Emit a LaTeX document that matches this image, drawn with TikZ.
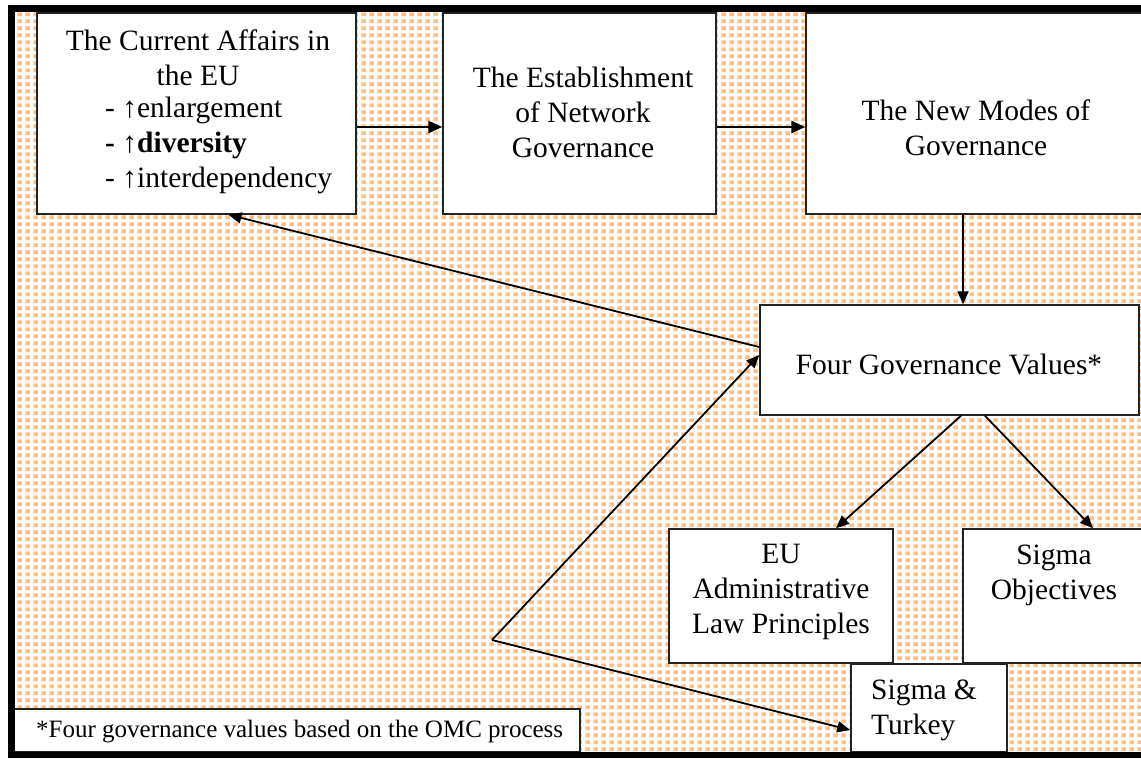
\documentclass[tikz,border=0pt]{standalone}
\usepackage{fontspec}
\setmainfont{Liberation Serif}
\usetikzlibrary{arrows.meta,patterns}
\definecolor{peachc}{RGB}{255,190,130}
\definecolor{boxline}{RGB}{35,35,35}
\pgfdeclarepatternformonly{peachgrid}{\pgfqpoint{0pt}{0pt}}{\pgfqpoint{8pt}{6.5pt}}{\pgfqpoint{8pt}{6.5pt}}{%
  \pgfpathrectangle{\pgfqpoint{1.5pt}{1pt}}{\pgfqpoint{5pt}{4pt}}\pgfusepath{fill}}
\tikzset{
  box/.style={draw=boxline, fill=white, line width=1.5pt, inner sep=0pt, rectangle},
  txt/.style={font=\fontsize{29.5}{35}\selectfont, inner sep=0pt, align=center},
  arr/.style={draw=black, line width=2.6pt, -{Triangle[length=14pt,width=12pt]}},
  thinarr/.style={draw=black, line width=1.8pt, -{Triangle[length=13pt,width=11pt]}},
}
\begin{document}
\begin{tikzpicture}[x=1pt,y=-1pt]
\useasboundingbox (0,0) rectangle (1141,758);
\begin{scope}
\clip (0,0) rectangle (1141,758);
\fill[white] (0,0) rectangle (1141,758);
\fill[pattern=peachgrid, pattern color=peachc] (15,12) rectangle (1141,752);

% boxes
\node[box, minimum width=319pt, minimum height=201pt] (cur) at (196.5,113.5) {};
\node[box, minimum width=273pt, minimum height=201pt] (est) at (579.5,113.5) {};
\node[box, minimum width=340pt, minimum height=201pt] (nmg) at (976,113.5) {};
\node[box, minimum width=379pt, minimum height=110pt] (fgv) at (949.5,360) {};
\node[box, minimum width=224pt, minimum height=134pt] (eu) at (781,596) {};
\node[box, minimum width=183pt, minimum height=134pt] (sob) at (1054.5,596) {};
\node[box, minimum width=156pt, minimum height=88pt] (stk) at (929,708) {};
\node[box, minimum width=566pt, minimum height=43pt] (fn) at (297,730.5) {};

% texts
\node[txt] (curT) at (198,57.5) {The Current Affairs in\\the EU};
\node[txt, anchor=west, align=left] (curL) at (105,145) {- ↑enlargement\\\textbf{- ↑diversity}\\- ↑interdependency};
\node[txt] (estT) at (583,112) {The Establishment\\of Network\\Governance};
\node[txt] (nmgT) at (976,128) {The New Modes of\\Governance};
\node[txt] (fgvT) at (949,364) {Four Governance Values*};
\node[txt] (euT) at (781,592) {EU\\Administrative\\Law Principles};
\node[txt] (sobT) at (1054,575) {Sigma\\Objectives};
\node[txt, anchor=west, align=left] (stkT) at (871,710) {Sigma \&\\Turkey};
\node[font=\fontsize{25}{30}\selectfont, inner sep=0pt, anchor=west] (fnT) at (36,732) {*Four governance values based on the OMC process};

% connectors
\coordinate (v) at (492,640);
\draw[arr] ([yshift=-13.5pt]cur.east) -- ([yshift=-13.5pt]est.west);
\draw[arr] ([yshift=-13.5pt]est.east) -- ([yshift=-13.5pt]nmg.west);
\draw[thinarr] ([xshift=-13pt]nmg.south) -- ([xshift=13.5pt]fgv.north);
\draw[thinarr] ([yshift=13pt]fgv.west) -- ([xshift=32pt]cur.south);
\draw[thinarr] ([xshift=11.5pt]fgv.south) -- ([xshift=55pt]eu.north);
\draw[thinarr] ([xshift=35.5pt]fgv.south) -- ([xshift=38.5pt]sob.north);
\draw[thinarr] (v) -- ([yshift=5pt]fgv.west);
\draw[thinarr] (v) -- ([yshift=-22pt]stk.west);

% frame
\fill[black] (8,5) rectangle (1141,12);
\fill[black] (8,5) rectangle (15,758);
\fill[black] (8,752) rectangle (1141,758);
\end{scope}
\end{tikzpicture}
\end{document}
